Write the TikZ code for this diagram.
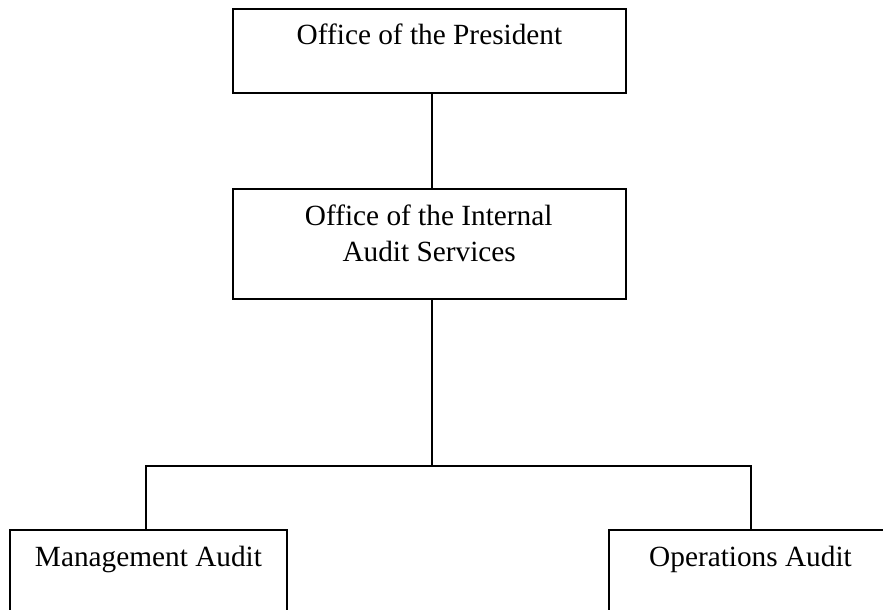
\documentclass[tikz,border=0pt]{standalone}
\usepackage{fontspec}
\setmainfont{Liberation Serif}
\begin{document}
\begin{tikzpicture}[x=1pt,y=-1pt,
  orgbox/.style={draw=black,line width=2pt,rectangle,anchor=north west,inner sep=0pt,outer sep=0pt},
  orgtext/.style={anchor=base,inner sep=0pt,font=\fontsize{29.3}{36}\selectfont},
  link/.style={draw=black,line width=2.2pt}]
  \useasboundingbox (0,0) rectangle (883,610);
  \clip (0,0) rectangle (883,610);

  % boxes
  \node[orgbox,minimum width=393.3pt,minimum height=83.7pt] (pres) at (232.7,9.3) {};
  \node[orgbox,minimum width=393.3pt,minimum height=109.7pt] (ias) at (232.7,189.3) {};
  \node[orgbox,minimum width=276.7pt,minimum height=140pt] (mgmt) at (10.3,529.5) {};
  \node[orgbox,minimum width=300pt,minimum height=140pt] (ops) at (609,529.5) {};

  % labels
  \node[orgtext] (presT) at (429.5,45) {Office of the President};
  \node[orgtext] (iasT1) at (428.7,225) {Office of the Internal};
  \node[orgtext] (iasT2) at (429.2,261) {Audit Services};
  \node[orgtext] (mgmtT) at (148.5,566) {Management Audit};
  \node[orgtext] (opsT) at (750.5,566) {Operations Audit};

  % junction points of the tree
  \coordinate (j) at (431.7,466);
  \coordinate (jl) at (146,466);
  \coordinate (jr) at (750.7,466);

  % connectors
  \draw[link] (j |- pres.south) -- (j |- ias.north);
  \draw[link] (j |- ias.south) -- (j);
  \draw[line width=2pt] (jl |- mgmt.north) -- (jl) -- (jr) -- (jr |- ops.north);
\end{tikzpicture}
\end{document}
